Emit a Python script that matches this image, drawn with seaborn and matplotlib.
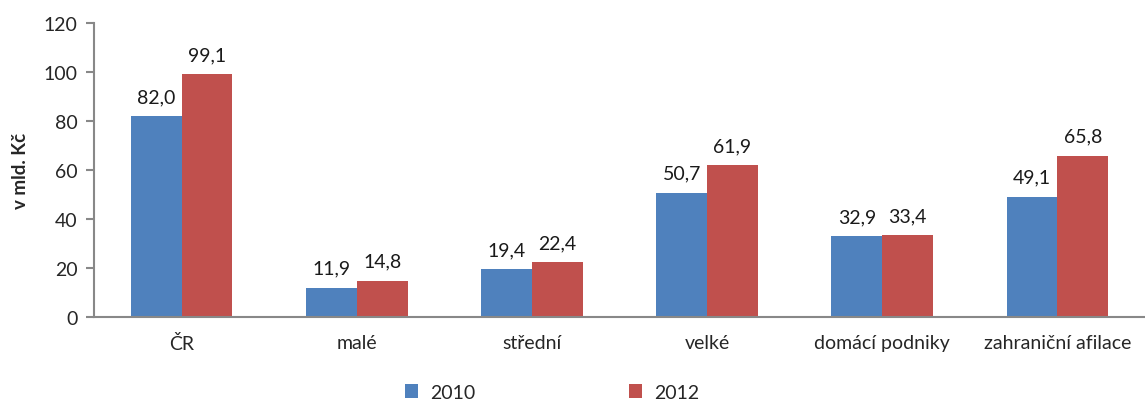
import matplotlib
matplotlib.use("Agg")
import matplotlib.pyplot as plt
import seaborn as sns
import pandas as pd

categories = ["ČR", "malé", "střední", "velké", "domácí podniky", "zahraniční afilace"]
values_2010 = [82.0, 11.9, 19.4, 50.7, 32.9, 49.1]
values_2012 = [99.1, 14.8, 22.4, 61.9, 33.4, 65.8]
series = ["2010", "2012"]
colors = ["#4F81BD", "#C0504D"]

df = pd.DataFrame({
    "cat": categories * 2,
    "val": values_2010 + values_2012,
    "year": [series[0]] * len(categories) + [series[1]] * len(categories),
})

sns.set_style("white")
plt.rcParams["font.family"] = ["Lato", "DejaVu Sans"]

fig = plt.figure(figsize=(11.45, 4.02), dpi=100)
ax = fig.add_axes([0.0821, 0.209, 0.9179, 0.731])

sns.barplot(data=df, x="cat", y="val", hue="year", palette=colors,
            width=0.58, saturation=1, ax=ax, legend=True, linewidth=0)

for cont in ax.containers:
    labs = [f"{b.get_height():.1f}".replace(".", ",") for b in cont]
    ax.bar_label(cont, labels=labs, padding=8, fontsize=14, color="#1a1a1a")

ax.set_ylim(0, 120)
ax.set_yticks(range(0, 121, 20))
ax.set_xlim(-0.5, 5.5)
ax.set_xlabel("")
ax.set_ylabel("v mld. Kč", fontsize=13.5, fontweight="bold", labelpad=10)
ax.tick_params(axis="y", labelsize=14, length=6, width=1.5, color="#888888", direction="out", left=True, pad=6)
ax.tick_params(axis="x", labelsize=14, length=0, pad=12)
for s in ["top", "right"]:
    ax.spines[s].set_visible(False)
for s in ["left", "bottom"]:
    ax.spines[s].set_color("#888888")
    ax.spines[s].set_linewidth(1.5)

h, l = ax.get_legend_handles_labels()
ax.legend_.remove()
fig.legend(h, l, loc="center", bbox_to_anchor=(0.482, 0.022), ncol=2, frameon=False,
           fontsize=14, handlelength=0.7, handleheight=0.7, columnspacing=7.9, handletextpad=0.6)

fig.savefig("out.png", dpi=100)
